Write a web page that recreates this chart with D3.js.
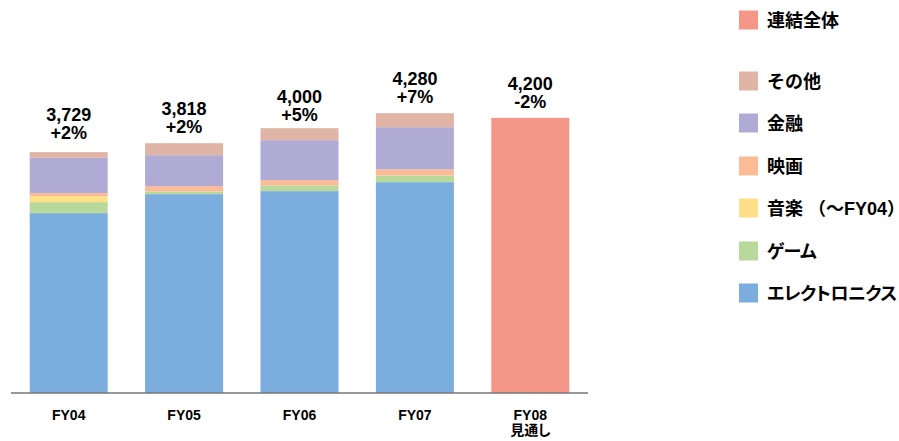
<!DOCTYPE html>
<html>
<head>
<meta charset="utf-8">
<script src="https://cdn.jsdelivr.net/npm/d3@7"></script>
<style>
  body { margin: 0; background: #fff; }
  text { font-family: "Liberation Sans", Arial, "Noto Sans CJK JP", sans-serif; font-weight: bold; fill: #000; }
  .jp { font-feature-settings: "palt"; }
</style>
</head>
<body>
<div id="chart"></div>
<script>
// chart size
const width = 899, height = 441;

// data
const years = ["FY04", "FY05", "FY06", "FY07", "FY08"];
const subLabels = ["", "", "", "", "見通し"];
const totals = [3729, 3818, 4000, 4280, 4200];
const growth = ["+2%", "+2%", "+5%", "+7%", "-2%"];

const electronics = [2746, 3036, 3082, 3219, 0];
const game        = [168, 41, 87, 102, 0];
const music       = [92, 0, 0, 0, 0];
const film        = [46, 81, 81, 96, 0];
const financial   = [539, 473, 610, 641, 0];
const other       = [87, 183, 183, 214, 0];
const consolidated = [0, 0, 0, 0, 4200];

const seriesNames = ["エレクトロニクス", "ゲーム", "音楽 （～FY04）", "映画", "金融", "その他", "連結全体"];
const seriesValues = [electronics, game, music, film, financial, other, consolidated];
const colors = ["#7badde", "#b8d99b", "#ffdf88", "#fcbb97", "#b0abd4", "#e0b5a6", "#f59788"];
const legendOrder = ["連結全体", "その他", "金融", "映画", "音楽 （～FY04）", "ゲーム", "エレクトロニクス"];

// build rows for the stack
const rows = years.map((y, i) => {
    const r = {year: y};
    seriesNames.forEach((s, j) => r[s] = seriesValues[j][i]);
    return r;
});

const svg = d3.select("#chart").append("svg")
    .attr("width", width)
    .attr("height", height);

const x = d3.scaleBand()
    .domain(years)
    .range([11, 588])
    .paddingInner(0.324)
    .paddingOuter(0.162);

const y = d3.scaleLinear()
    .domain([0, 6000])
    .range([393, 0]);

const color = d3.scaleOrdinal().domain(seriesNames).range(colors);

const stacked = d3.stack().keys(seriesNames)(rows);

// bars
svg.append("g")
    .selectAll("g")
    .data(stacked)
    .join("g")
        .attr("fill", d => color(d.key))
    .selectAll("rect")
    .data(d => d)
    .join("rect")
        .attr("x", d => x(d.data.year))
        .attr("y", d => y(d[1]))
        .attr("width", x.bandwidth())
        .attr("height", d => y(d[0]) - y(d[1]));

// baseline axis
svg.append("line")
    .attr("x1", 11).attr("x2", 588)
    .attr("y1", 393).attr("y2", 393)
    .attr("stroke", "#777")
    .attr("stroke-width", 1.5);

// category labels
const cat = svg.append("g").selectAll("text")
    .data(years)
    .join("text")
        .attr("x", d => x(d) + x.bandwidth() / 2)
        .attr("y", 420)
        .attr("text-anchor", "middle")
        .style("font-size", "14px");
cat.append("tspan").text(d => d);
cat.append("tspan")
    .attr("class", "jp")
    .attr("x", d => x(d) + x.bandwidth() / 2)
    .attr("dy", 15)
    .text((d, i) => subLabels[i]);

// value labels above bars (two separate lines)
const valX = d => x(d) + x.bandwidth() / 2;
svg.append("g").selectAll("text")
    .data(years)
    .join("text")
        .attr("x", valX)
        .attr("y", (d, i) => y(totals[i]) - 28)
        .attr("text-anchor", "middle")
        .style("font-size", "18px")
        .text((d, i) => d3.format(",")(totals[i]));
svg.append("g").selectAll("text")
    .data(years)
    .join("text")
        .attr("x", valX)
        .attr("y", (d, i) => y(totals[i]) - 10)
        .attr("text-anchor", "middle")
        .style("font-size", "18px")
        .text((d, i) => growth[i]);

// legend
const legendY = [20, 81, 123, 166, 208, 251, 293];
const isKana = d => /[ァ-ヶー]/.test(d);
const legend = svg.append("g").selectAll("g")
    .data(legendOrder)
    .join("g")
        .attr("transform", (d, i) => `translate(739, ${legendY[i]})`);
legend.append("rect")
    .attr("x", 0).attr("y", -9.5)
    .attr("width", 19).attr("height", 19)
    .attr("fill", d => color(d));
legend.append("text")
    .attr("x", 28)
    .attr("y", 6.5)
    .style("font-size", "18px")
    .style("font-feature-settings", d => isKana(d) ? "'palt'" : "normal")
    .style("letter-spacing", d => isKana(d) ? "-0.5px" : "0px")
    .text(d => d);
</script>
</body>
</html>
